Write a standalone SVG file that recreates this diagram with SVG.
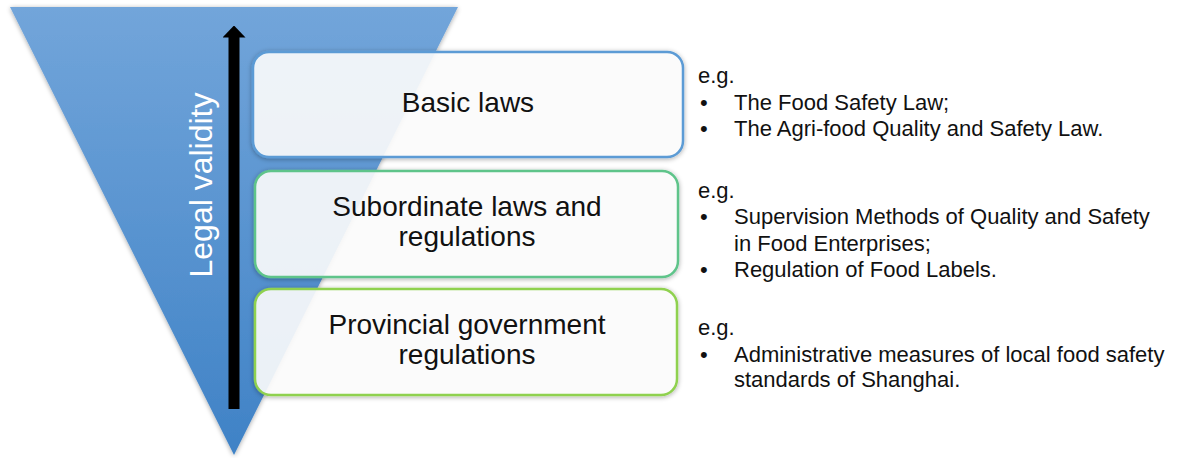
<svg xmlns="http://www.w3.org/2000/svg" width="1179" height="458" viewBox="0 0 1179 458">
  <defs>
    <linearGradient id="triFill" x1="0" y1="0" x2="0" y2="1">
      <stop offset="0" stop-color="#72a5da"/>
      <stop offset="1" stop-color="#3f82c6"/>
    </linearGradient>
    <filter id="softShadow" x="-10%" y="-10%" width="120%" height="120%">
      <feGaussianBlur in="SourceAlpha" stdDeviation="2.5"/>
      <feOffset dx="0" dy="1" result="blur"/>
      <feComponentTransfer><feFuncA type="linear" slope="0.35"/></feComponentTransfer>
      <feMerge><feMergeNode/><feMergeNode in="SourceGraphic"/></feMerge>
    </filter>
    <!-- triangular head, pointing along the line direction -->
    <marker id="arrowHead" viewBox="0 0 12 23" refX="0.5" refY="11.5" markerWidth="12" markerHeight="23" markerUnits="userSpaceOnUse" orient="auto">
      <path d="M0 0 L12 11.5 L0 23 Z" fill="#000"/>
    </marker>
    <style>
      .box { fill: #ffffff; fill-opacity: 0.88; stroke-width: 2.5; }
      .label { font-family: "Liberation Sans", Arial, sans-serif; font-size: 28px; fill: #111; text-anchor: middle; }
      .note { font-family: "Liberation Sans", Arial, sans-serif; font-size: 22px; fill: #111; }
      .axis { font-family: "Liberation Sans", Arial, sans-serif; font-size: 32px; fill: #ffffff; text-anchor: middle; }
    </style>
  </defs>

  <!-- inverted pyramid background -->
  <g id="pyramid">
    <polygon points="10,7 458,7 234,455" fill="url(#triFill)" filter="url(#softShadow)"/>
    <text class="axis" transform="translate(212,185) rotate(-90)">Legal validity</text>
  </g>

  <!-- vertical arrow: validity increases upward -->
  <g id="connectors">
    <line x1="234" y1="409" x2="234" y2="37" stroke="#000" stroke-width="11" marker-end="url(#arrowHead)"/>
  </g>

  <g id="basic-laws">
    <rect class="box" x="253" y="52" width="430" height="105" rx="16" stroke="#5b9bd5" filter="url(#softShadow)"/>
    <text class="label" x="468" y="112">Basic laws</text>
  </g>

  <g id="subordinate-laws">
    <rect class="box" x="255" y="171" width="423" height="106" rx="16" stroke="#5ec48a" filter="url(#softShadow)"/>
    <text class="label" x="467" y="216">Subordinate laws and</text>
    <text class="label" x="467" y="246">regulations</text>
  </g>

  <g id="provincial-regulations">
    <rect class="box" x="255" y="289" width="422" height="106" rx="16" stroke="#8fd14f" filter="url(#softShadow)"/>
    <text class="label" x="467" y="334">Provincial government</text>
    <text class="label" x="467" y="364">regulations</text>
  </g>

  <!-- examples for each level -->
  <g id="basic-laws-examples" class="note">
    <text x="698" y="83">e.g.</text>
    <text x="700" y="110">•</text>
    <text x="734" y="110">The Food Safety Law;</text>
    <text x="700" y="136">•</text>
    <text x="734" y="136">The Agri-food Quality and Safety Law.</text>
  </g>

  <g id="subordinate-laws-examples" class="note">
    <text x="698" y="198">e.g.</text>
    <text x="700" y="224">•</text>
    <text x="734" y="224">Supervision Methods of Quality and Safety</text>
    <text x="734" y="251">in Food Enterprises;</text>
    <text x="700" y="277">•</text>
    <text x="734" y="277">Regulation of Food Labels.</text>
  </g>

  <g id="provincial-regulations-examples" class="note">
    <text x="698" y="335">e.g.</text>
    <text x="700" y="362">•</text>
    <text x="734" y="362">Administrative measures of local food safety</text>
    <text x="734" y="387">standards of Shanghai.</text>
  </g>
</svg>
